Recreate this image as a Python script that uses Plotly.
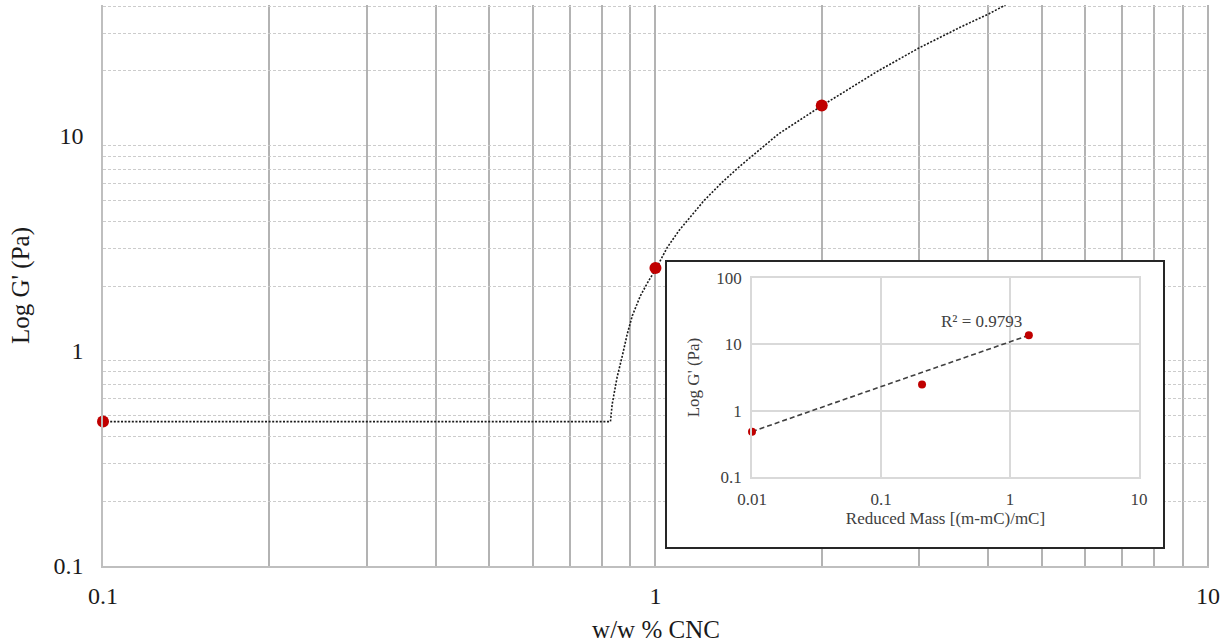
import plotly.graph_objects as go

# ---- main chart data ----
cnc = [0.1, 1.0, 2.0]
g_prime = [0.47, 2.43, 13.8]

fit_x = [0.1, 0.829, 0.835, 0.852, 0.871, 0.889, 0.908, 0.939, 0.972, 1.003, 1.050,
         1.102, 1.141, 1.223, 1.320, 1.424, 1.549, 1.671, 2.001, 2.517, 2.993,
         3.56, 4.01, 4.30]
fit_y = [0.469, 0.469, 0.565, 0.751, 0.948, 1.196, 1.455, 1.802, 2.116, 2.414, 3.02,
         3.61, 4.02, 4.98, 6.07, 7.24, 8.67, 10.2, 13.79, 19.85, 25.5,
         31.9, 36.8, 40.5]

# ---- inset data ----
reduced_mass = [0.01, 0.208, 1.40]
inset_g = [0.48, 2.47, 13.7]
trend_x = [0.01, 1.40]
trend_y = [0.485, 13.7]
r2_text = "R² = 0.9793"

# ---- tick labels ----
main_x_ticks = [0.1, 1, 10]
main_x_labels = ["0.1", "1", "10"]
main_y_ticks = [0.1, 1, 10]
main_y_labels = ["0.1", "1", "10"]
x_minor = [0.2, 0.3, 0.4, 0.5, 0.6, 0.7, 0.8, 0.9, 2, 3, 4, 5, 6, 7, 8, 9]
y_minor = [0.2, 0.3, 0.4, 0.5, 0.6, 0.7, 0.8, 0.9, 2, 3, 4, 5, 6, 7, 8, 9, 20, 30, 40]
inset_x_ticks = [0.01, 0.1, 1, 10]
inset_x_labels = ["0.01", "0.1", "1", "10"]
inset_y_ticks = [0.1, 1, 10, 100]
inset_y_labels = ["0.1", "1", "10", "100"]

FONT = "Liberation Serif, Times New Roman, serif"
RED = "#C00000"
TXT = "#1a1a1a"
ITXT = "#404040"

fig = go.Figure()

# main fit curve
fig.add_trace(go.Scatter(x=fit_x, y=fit_y, mode="lines",
                         line=dict(color="#1a1a1a", width=1.6, dash="2px,1.6px"),
                         xaxis="x", yaxis="y", hoverinfo="skip"))
fig.add_trace(go.Scatter(x=cnc, y=g_prime, mode="markers",
                         marker=dict(color=RED, size=12),
                         xaxis="x", yaxis="y", cliponaxis=False))

# inset frame (white background)
fig.add_trace(go.Scatter(x=[0, 1, 1, 0, 0], y=[0, 0, 1, 1, 0], mode="lines",
                         fill="toself", fillcolor="white", line=dict(width=0),
                         xaxis="x2", yaxis="y2", hoverinfo="skip"))

# inset trendline & points
fig.add_trace(go.Scatter(x=trend_x, y=trend_y, mode="lines",
                         line=dict(color="#404040", width=1.6, dash="5px,3px"),
                         xaxis="x3", yaxis="y3", hoverinfo="skip"))
fig.add_trace(go.Scatter(x=reduced_mass, y=inset_g, mode="markers",
                         marker=dict(color=RED, size=8),
                         xaxis="x3", yaxis="y3", cliponaxis=False))

VGRID = "#b3b3b3"
HGRID = "#cccccc"

fig.update_layout(
    width=1230, height=643,
    margin=dict(l=103, r=21, t=5, b=77, autoexpand=False),
    paper_bgcolor="white", plot_bgcolor="white",
    showlegend=False,
    font=dict(family=FONT, size=24, color=TXT),
    xaxis=dict(
        type="log", range=[-1, 1.002], domain=[0, 1], automargin=False,
        tickmode="array", tickvals=main_x_ticks, ticktext=main_x_labels,
        tickfont=dict(size=24, color=TXT),
        showgrid=True, gridcolor=VGRID, gridwidth=1.5,
        minor=dict(tickmode="array", tickvals=x_minor, showgrid=True,
                   gridcolor=VGRID, gridwidth=1.5, ticks=""),
        showline=True, linecolor="#bfbfbf", linewidth=2,
        ticks="", ticklabelstandoff=7, zeroline=False,
        title=dict(text="w/w % CNC", standoff=14, font=dict(size=25, color=TXT)),
        anchor="y",
    ),
    yaxis=dict(
        type="log", range=[-1, 1.6075], domain=[0, 1], automargin=False,
        tickmode="array", tickvals=main_y_ticks, ticktext=main_y_labels,
        tickfont=dict(size=24, color=TXT),
        showgrid=False,
        minor=dict(tickmode="array", tickvals=y_minor, showgrid=True,
                   gridcolor=HGRID, gridwidth=1, griddash="3px,2px", ticks=""),
        showline=True, linecolor="#bfbfbf", linewidth=1.5,
        ticks="", ticklabelstandoff=13, zeroline=False,
        title=dict(text="Log G' (Pa)", standoff=17, font=dict(size=25, color=TXT)),
        anchor="x",
    ),
    xaxis2=dict(
        domain=[0.5099, 0.9584], range=[0, 1], anchor="y2", automargin=False,
        showgrid=False, zeroline=False, showticklabels=False, ticks="",
        showline=True, mirror=True, linecolor="#262626", linewidth=1.5,
    ),
    yaxis2=dict(
        domain=[0.0339, 0.5419], range=[0, 1], anchor="x2", automargin=False,
        showgrid=False, zeroline=False, showticklabels=False, ticks="",
        showline=True, mirror=True, linecolor="#262626", linewidth=1.5,
    ),
    xaxis3=dict(
        type="log", range=[-2, 1], domain=[0.5868, 0.9367], anchor="y3",
        automargin=False,
        tickmode="array", tickvals=inset_x_ticks, ticktext=inset_x_labels,
        showgrid=True, gridcolor="#d9d9d9", gridwidth=1.5,
        showline=True, mirror=True, linecolor="#d9d9d9", linewidth=1.5,
        ticks="", ticklabelstandoff=6, zeroline=False,
        tickfont=dict(size=17, color=ITXT),
        title=dict(text="Reduced Mass [(m-mC)/mC]", standoff=4,
                   font=dict(size=17, color=ITXT)),
    ),
    yaxis3=dict(
        type="log", range=[-1, 2], domain=[0.1586, 0.5134], anchor="x3",
        automargin=False,
        tickmode="array", tickvals=inset_y_ticks, ticktext=inset_y_labels,
        showgrid=True, gridcolor="#d9d9d9", gridwidth=1.5,
        showline=True, mirror=True, linecolor="#d9d9d9", linewidth=1.5,
        ticks="", ticklabelstandoff=5, zeroline=False,
        tickfont=dict(size=17, color=ITXT),
        title=dict(text="Log G' (Pa)", standoff=12,
                   font=dict(size=17, color=ITXT)),
    ),
    annotations=[dict(
        text=r2_text, xref="x3 domain", yref="y3 domain", x=0.594, y=0.84,
        showarrow=False, font=dict(size=17, color=ITXT, family=FONT),
    )],
)

fig.write_html("out.html")
